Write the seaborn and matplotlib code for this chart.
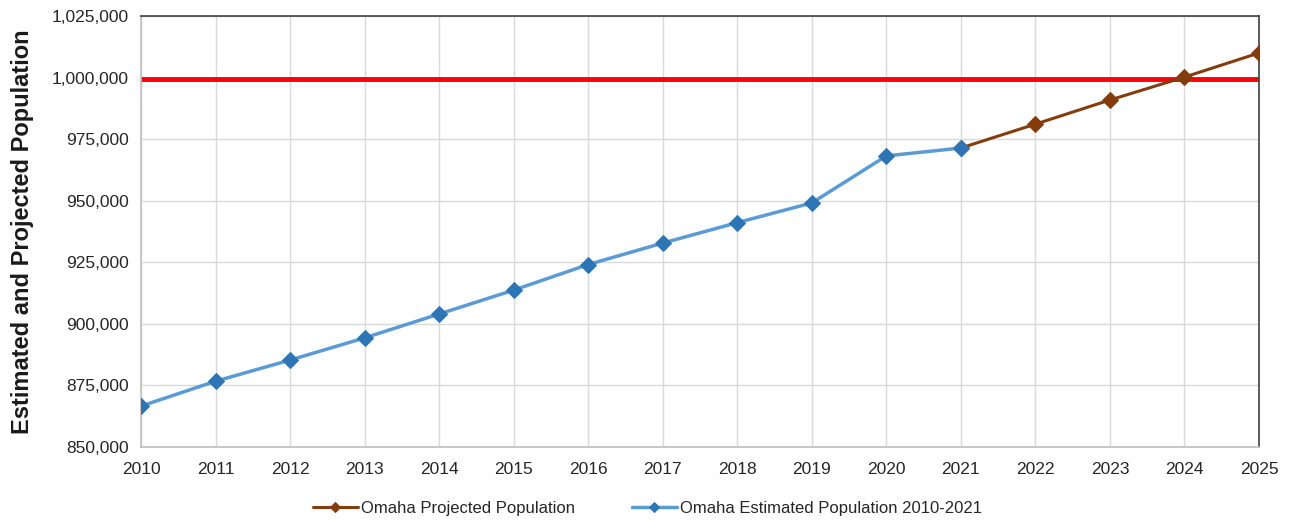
import matplotlib
matplotlib.use("Agg")
import matplotlib.pyplot as plt
from matplotlib.ticker import FuncFormatter
import seaborn as sns
import pandas as pd

# estimated population 2010-2021
est_years = [2010, 2011, 2012, 2013, 2014, 2015, 2016, 2017, 2018, 2019, 2020, 2021]
est_pop = [866600, 876700, 885300, 894300, 904000, 913700, 924100, 932800, 941100, 949100, 968200, 971400]

# projected population 2021-2025
proj_years = [2021, 2022, 2023, 2024, 2025]
proj_pop = [971400, 981100, 990900, 1000200, 1010000]

threshold = 999300

est = pd.DataFrame({"year": est_years, "pop": est_pop})
proj = pd.DataFrame({"year": proj_years, "pop": proj_pop})

sns.set_style("white")
plt.rcParams["font.family"] = ["Liberation Sans", "DejaVu Sans"]

fig = plt.figure(figsize=(12.95, 5.2), dpi=100)
ax = fig.add_axes([0.1089, 0.1404, 0.8633, 0.8288])

ax.axhline(threshold, color="#ff0000", lw=3.5, zorder=2)

sns.lineplot(data=proj, x="year", y="pop", ax=ax, color="#843c0c", lw=2.2,
             marker="D", markersize=8, markeredgecolor="#843c0c",
             label="Omaha Projected Population", zorder=3)
sns.lineplot(data=est, x="year", y="pop", ax=ax, color="#5b9bd5", lw=2.5,
             marker="D", markersize=8, markerfacecolor="#2e75b6",
             markeredgecolor="#2e75b6", label="Omaha Estimated Population 2010-2021",
             zorder=4)

ax.set_xlim(2010, 2025)
ax.set_ylim(850000, 1025000)
ax.set_xticks(range(2010, 2026))
ax.set_yticks(range(850000, 1025001, 25000))
ax.yaxis.set_major_formatter(FuncFormatter(lambda v, p: f"{int(v):,}"))
ax.grid(True, color="#d9d9d9", lw=1)
ax.tick_params(axis="y", length=0, labelsize=12.5, colors="#262626", pad=9)
ax.tick_params(axis="x", length=0, labelsize=12.5, colors="#262626", pad=11)
ax.set_xlabel("")
ax.set_ylabel("")
fig.text(0.017, 0.555, "Estimated and Projected Population", rotation=90,
         ha="center", va="center", fontsize=17, fontweight="bold",
         color="#1a1a1a")

for s in ["left", "bottom"]:
    ax.spines[s].set_color("#bfbfbf")
for s in ["top", "right"]:
    ax.spines[s].set_color("#404040")
for s in ax.spines.values():
    s.set_linewidth(1.2)

handles, labels = ax.get_legend_handles_labels()
ax.get_legend().remove()
fig.legend(handles, labels, loc="center", bbox_to_anchor=(0.5, 0.022), ncol=2,
           frameon=False, fontsize=12, handlelength=2.7,
           handletextpad=0.2, columnspacing=3.4, markerscale=0.6)

fig.savefig("out.png", dpi=100)
